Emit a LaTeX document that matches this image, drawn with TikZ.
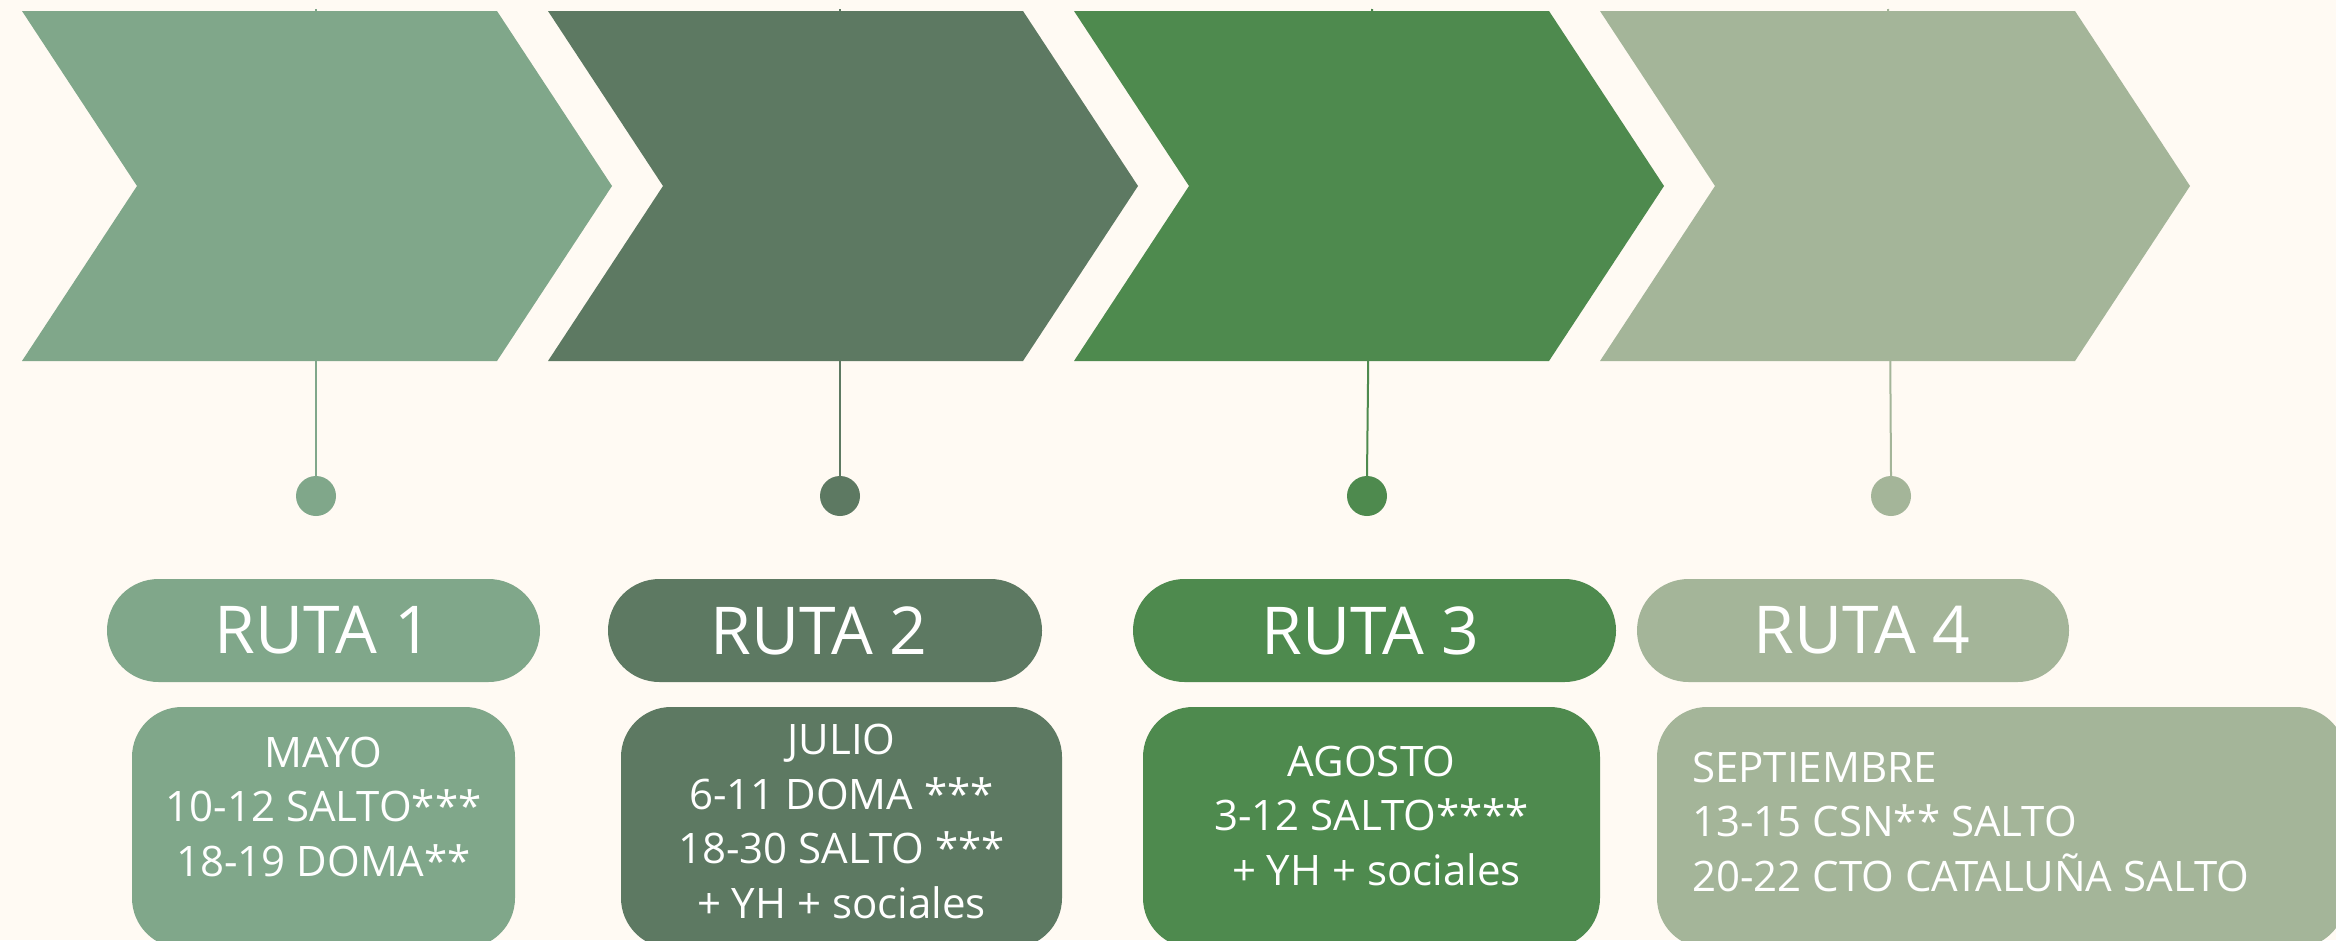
\documentclass[tikz,border=0pt]{standalone}
\usepackage{fontspec}
\setmainfont{Open Sans}
\definecolor{bg}{HTML}{FFFAF3}
\definecolor{gA}{HTML}{80A78A}
\definecolor{gB}{HTML}{5D7962}
\definecolor{gC}{HTML}{4E8A4E}
\definecolor{gD}{HTML}{A4B599}
\tikzset{
  stem/.style={line width=2pt},
  dot/.style={circle, inner sep=0pt, minimum size=40pt},
  pill/.style={rectangle, rounded corners=51.5pt, minimum height=103pt, inner sep=0pt, text=white, font=\fontsize{66}{80}\selectfont},
  infobox/.style={rectangle, rounded corners=50pt, minimum height=241pt, inner sep=0pt},
  infotext/.style={text=white, inner sep=0pt, font=\fontsize{42}{54.5}\selectfont},
}
\begin{document}
\begin{tikzpicture}[x=1pt,y=-1pt]
\fill[bg] (0,0) rectangle (2336,940);
\useasboundingbox (0,0) rectangle (2336,940);

% stems (behind chevrons)
\coordinate (s1) at (316,9);
\coordinate (s2) at (840,9);
\coordinate (s3) at (1372,9);
\coordinate (s4) at (1888,9);
\node[dot, fill=gA] (d1) at (316,496) {};
\node[dot, fill=gB] (d2) at (840,496) {};
\node[dot, fill=gC] (d3) at (1367,496) {};
\node[dot, fill=gD] (d4) at (1891,496) {};
\draw[stem, gA] (s1) -- (d1.north);
\draw[stem, gB] (s2) -- (d2.north);
\draw[stem, gC] (s3) -- (d3.north);
\draw[stem, gD] (s4) -- (d4.north);

% chevrons
\foreach \xo/\col in {22/gA, 548/gB, 1074/gC, 1600/gD}{
  \fill[\col] (\xo,11) -- ++(475,0) -- ++(115,175) -- ++(-115,175) -- ++(-475,0) -- ++(115,-175) -- cycle;
}

% pills
\node[pill, fill=gA, minimum width=433pt] (p1) at (323.5,630.5) {RUTA 1};
\node[pill, fill=gB, minimum width=434pt] (p2) at (825,630.5) {RUTA 2\hspace*{12pt}};
\node[pill, fill=gC, minimum width=483pt] (p3) at (1374.5,630.5) {RUTA 3\hspace*{8pt}};
\node[pill, fill=gD, minimum width=432pt] (p4) at (1853,630.5) {\hspace*{18pt}RUTA 4};

% info boxes
\node[infobox, fill=gA, minimum width=383pt] (b1) at (323.5,827.5) {};
\node[infobox, fill=gB, minimum width=441pt] (b2) at (841.5,827.5) {};
\node[infobox, fill=gC, minimum width=457pt] (b3) at (1371.5,827.5) {};
\node[infobox, fill=gD, minimum width=689pt] (b4) at (2001.5,827.5) {};

\node[infotext, align=center, anchor=base] (t1) at (323.5,876) {MAYO\\10-12 SALTO***\\18-19 DOMA**};
\node[infotext, align=center, anchor=base] (t2) at (841.5,918) {JULIO\\6-11 DOMA ***\\18-30 SALTO ***\\+ YH + sociales};
\node[infotext, align=center, anchor=base] (t3) at (1371.5,885) {AGOSTO\\3-12 SALTO****\\\hspace*{10pt}+ YH + sociales};
\node[infotext, align=left, anchor=base west] (t4) at (1692,891) {SEPTIEMBRE\\13-15 CSN** SALTO\\20-22 CTO CATALUÑA SALTO};
\end{tikzpicture}
\end{document}
